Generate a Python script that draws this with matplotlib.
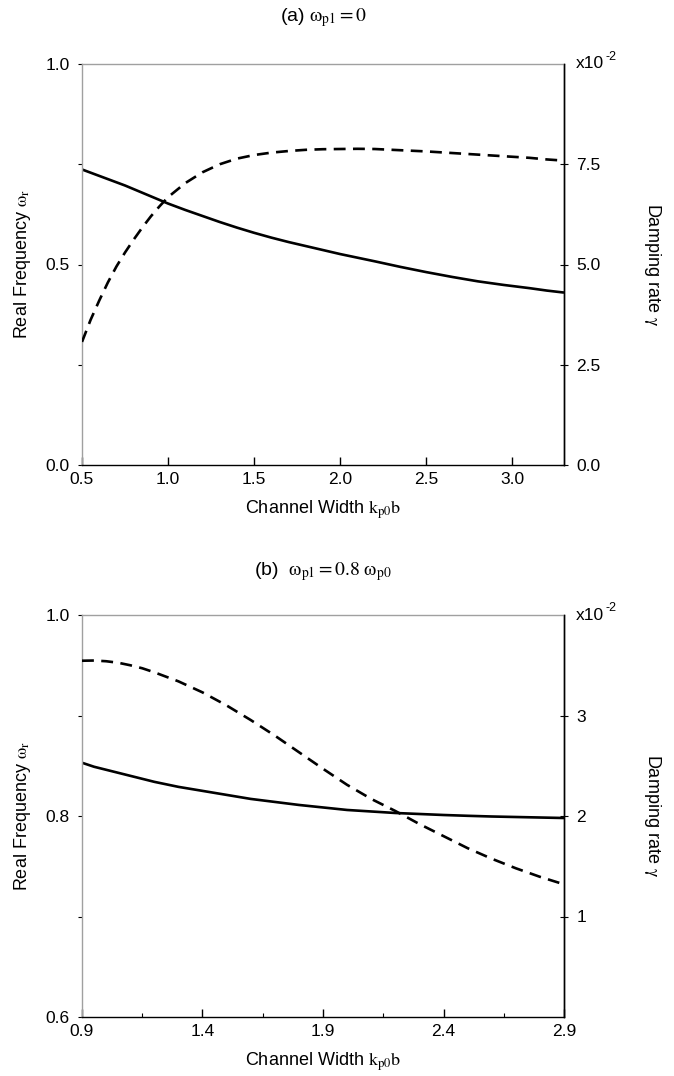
import matplotlib
matplotlib.use("Agg")
import matplotlib.pyplot as plt
from matplotlib.ticker import FixedLocator

plt.rcParams['font.family'] = ['Liberation Sans', 'DejaVu Sans']
plt.rcParams['mathtext.fontset'] = 'stix'

# Panel (a) data
xa = [0.5, 0.55, 0.6, 0.65, 0.7, 0.75, 0.8, 0.85, 0.9, 0.95, 1.0, 1.1, 1.2, 1.3, 1.4,
      1.5, 1.6, 1.7, 1.8, 1.9, 2.0, 2.1, 2.2, 2.35, 2.5, 2.65, 2.8, 2.95, 3.1, 3.2, 3.3]
freq_a = [0.737, 0.729, 0.721, 0.713, 0.705, 0.697, 0.688, 0.679, 0.670, 0.661, 0.652,
          0.636, 0.621, 0.606, 0.592, 0.579, 0.567, 0.556, 0.546, 0.536, 0.526, 0.517,
          0.508, 0.494, 0.481, 0.469, 0.458, 0.449, 0.441, 0.435, 0.430]
damp_a = [3.07, 3.62, 4.10, 4.55, 4.95, 5.30, 5.62, 5.92, 6.20, 6.45, 6.68, 7.03, 7.30,
          7.50, 7.64, 7.73, 7.79, 7.83, 7.86, 7.875, 7.88, 7.885, 7.88, 7.85, 7.82,
          7.78, 7.74, 7.70, 7.66, 7.62, 7.59]

# Panel (b) data
xb = [0.9, 0.95, 1.0, 1.05, 1.1, 1.15, 1.2, 1.3, 1.4, 1.5, 1.6, 1.7, 1.8, 1.9, 2.0,
      2.1, 2.2, 2.3, 2.4, 2.5, 2.6, 2.7, 2.8, 2.9]
freq_b = [0.853, 0.849, 0.846, 0.843, 0.840, 0.837, 0.834, 0.829, 0.825, 0.821, 0.817,
          0.814, 0.811, 0.8085, 0.806, 0.8045, 0.803, 0.802, 0.801, 0.8002, 0.7995,
          0.799, 0.7985, 0.798]
damp_b = [3.545, 3.547, 3.54, 3.525, 3.50, 3.47, 3.43, 3.34, 3.23, 3.10, 2.955, 2.80,
          2.635, 2.47, 2.31, 2.17, 2.05, 1.92, 1.80, 1.68, 1.575, 1.48, 1.395, 1.32]

W, H = 674, 1076
fig = plt.figure(figsize=(W / 100, H / 100), dpi=100)

GRAY = '#a0a0a0'
TFS = 12.5   # tick labels
LFS = 13     # axis labels
TTFS = 14    # panel titles


def setup(ax, x, freq, damp, xlim, xticks, xminor, ylim, yticks, ylabels, yminor,
          rlim, rticks, rlabels):
    ax.plot(x, freq, color='black', lw=1.9, solid_capstyle='butt')
    ax.set_xlim(*xlim)
    ax.set_ylim(*ylim)
    ax.xaxis.set_major_locator(FixedLocator(xticks))
    ax.set_xticklabels([f"{t:.1f}" for t in xticks], fontsize=TFS)
    if xminor:
        ax.xaxis.set_minor_locator(FixedLocator(xminor))
    ax.yaxis.set_major_locator(FixedLocator(yticks))
    ax.set_yticklabels(ylabels, fontsize=TFS)
    ax.yaxis.set_minor_locator(FixedLocator(yminor))
    ax.tick_params(axis='x', which='major', direction='in', length=6, width=1,
                   pad=5, top=False)
    ax.tick_params(axis='x', which='minor', direction='in', length=3, width=0.8,
                   top=False)
    ax.tick_params(axis='y', which='both', direction='out', length=3, width=0.8,
                   pad=6, color='black', right=False)
    ax.spines['left'].set_color(GRAY)
    ax.spines['top'].set_color(GRAY)
    ax.spines['bottom'].set_color('black')
    ax.spines['right'].set_color('black')
    for s in ax.spines.values():
        s.set_linewidth(1.0)

    ax2 = ax.twinx()
    ax2.plot(x, damp, color='black', lw=1.9, linestyle=(0, (4.5, 2.8)))
    ax2.set_ylim(*rlim)
    ax2.yaxis.set_major_locator(FixedLocator(rticks))
    ax2.set_yticklabels(rlabels, fontsize=TFS)
    ax2.tick_params(axis='y', direction='inout', length=6, width=0.8, pad=6)
    ax2.spines['left'].set_visible(False)
    ax2.spines['top'].set_visible(False)
    ax2.spines['bottom'].set_visible(False)
    ax2.spines['right'].set_color('black')
    ax2.spines['right'].set_linewidth(1.0)

    ax.set_xlabel(r"Channel Width $\mathrm{k_{p0}b}$", fontsize=LFS, va='center')
    ax.xaxis.set_label_coords(0.5, -45 / 401)
    ax.set_ylabel(r"Real Frequency $\mathrm{\omega_r}$", fontsize=LFS, va='center')
    ax.yaxis.set_label_coords(-59 / 482, 0.5)
    ax2.set_ylabel(r"Damping rate $\mathrm{\gamma}$", fontsize=LFS, rotation=-90,
                   va='center')
    ax2.yaxis.set_label_coords(1 + 88 / 482, 0.5)
    ax2.annotate("x10", xy=(1.0, 1.0), xycoords='axes fraction',
                 xytext=(12, 0), textcoords='offset pixels',
                 fontsize=TFS, ha='left', va='center')
    ax2.annotate("-2", xy=(1.0, 1.0), xycoords='axes fraction',
                 xytext=(41, 7), textcoords='offset pixels',
                 fontsize=9, ha='left', va='center')
    return ax2


# Panel (a)
axa = fig.add_axes([82 / W, 1 - 465 / H, 482 / W, 401 / H])
setup(axa, xa, freq_a, damp_a, (0.5, 3.3), [0.5, 1.0, 1.5, 2.0, 2.5, 3.0], None,
      (0.0, 1.0), [0.0, 0.5, 1.0], ["0.0", "0.5", "1.0"], [0.25, 0.75],
      (0.0, 10.0), [0.0, 2.5, 5.0, 7.5], ["0.0", "2.5", "5.0", "7.5"])
fig.text(323 / W, 1 - 18 / H, r"(a) $\mathrm{\omega_{p1} = 0}$", ha='center',
         va='center', fontsize=TTFS)

# Panel (b)
axb = fig.add_axes([82 / W, 1 - 1017 / H, 482 / W, 402 / H])
setup(axb, xb, freq_b, damp_b, (0.9, 2.9), [0.9, 1.4, 1.9, 2.4, 2.9],
      [1.15, 1.65, 2.15, 2.65],
      (0.6, 1.0), [0.6, 0.8, 1.0], ["0.6", "0.8", "1.0"], [0.7, 0.9],
      (0.0, 4.0), [1, 2, 3], ["1", "2", "3"])
fig.text(323 / W, 1 - 572 / H, r"(b)  $\mathrm{\omega_{p1} = 0.8\ \omega_{p0}}$",
         ha='center', va='center', fontsize=TTFS)

fig.savefig("out.png", dpi=100)
